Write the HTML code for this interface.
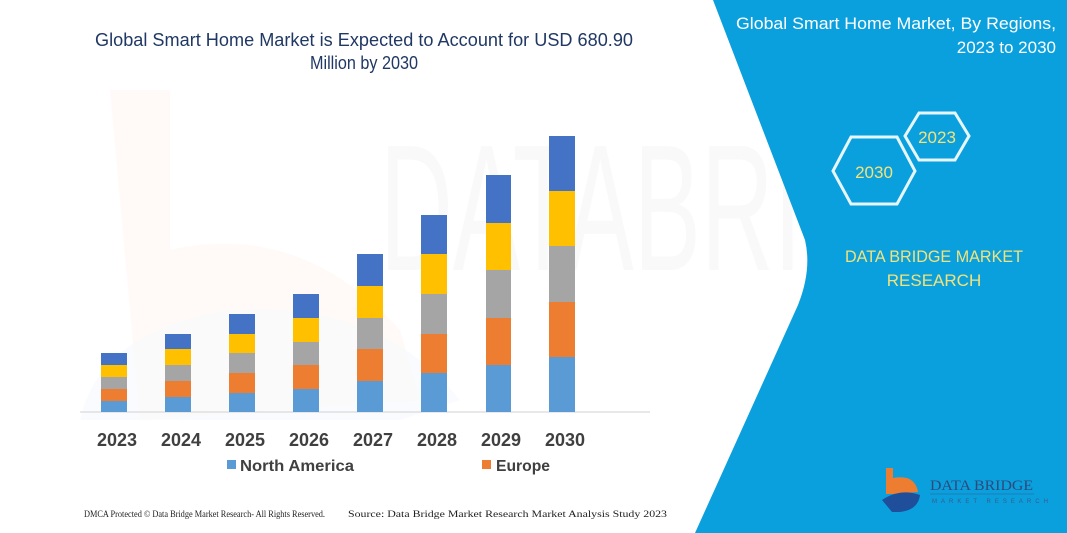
<!DOCTYPE html>
<html><head><meta charset="utf-8"><style>
html,body{margin:0;padding:0;background:#fff;}
svg{display:block;}
</style></head><body>
<svg width="1067" height="533" viewBox="0 0 1067 533" xmlns="http://www.w3.org/2000/svg">
<rect width="1067" height="533" fill="#fff"/>
<!-- faint watermark -->
<g opacity="0.04">
<path d="M110 90 L170 90 L170 250 Q300 220 400 330 L420 400 L140 420 Z" fill="#ED7D31"/>
<path d="M80 420 Q100 330 230 310 Q380 300 460 400 L400 420 Z" fill="#4472C4" opacity="0.6"/>
<text x="380" y="270" font-family="Liberation Sans, sans-serif" font-size="180" fill="#666" textLength="640" lengthAdjust="spacingAndGlyphs">DATABRIDGE</text>
</g>
<!-- blue panel -->
<path d="M713 0 L1067 0 L1067 533 L695 533 L798 305 Q812 270 805 240 Z" fill="#0AA0DE"/>
<!-- title -->
<g font-family="Liberation Sans, sans-serif" font-size="18" fill="#203864" text-anchor="middle">
<text x="364" y="46" textLength="538" lengthAdjust="spacingAndGlyphs">Global Smart Home Market is Expected to Account for USD 680.90</text>
<text x="364" y="69" textLength="108" lengthAdjust="spacingAndGlyphs">Million by 2030</text>
</g>
<!-- axis -->
<line x1="80" y1="412" x2="650" y2="412" stroke="#d9d9d9" stroke-width="1.2"/>
<!-- bars -->
<g>
<rect x="101" y="401" width="26" height="11" fill="#5B9BD5"/><rect x="101" y="389" width="26" height="12" fill="#ED7D31"/><rect x="101" y="377" width="26" height="12" fill="#A5A5A5"/><rect x="101" y="365" width="26" height="12" fill="#FFC000"/><rect x="101" y="353" width="26" height="12" fill="#4472C4"/>
<rect x="165" y="397" width="26" height="15" fill="#5B9BD5"/><rect x="165" y="381" width="26" height="16" fill="#ED7D31"/><rect x="165" y="365" width="26" height="16" fill="#A5A5A5"/><rect x="165" y="349" width="26" height="16" fill="#FFC000"/><rect x="165" y="334" width="26" height="15" fill="#4472C4"/>
<rect x="229" y="393" width="26" height="19" fill="#5B9BD5"/><rect x="229" y="373" width="26" height="20" fill="#ED7D31"/><rect x="229" y="353" width="26" height="20" fill="#A5A5A5"/><rect x="229" y="334" width="26" height="19" fill="#FFC000"/><rect x="229" y="314" width="26" height="20" fill="#4472C4"/>
<rect x="293" y="389" width="26" height="23" fill="#5B9BD5"/><rect x="293" y="365" width="26" height="24" fill="#ED7D31"/><rect x="293" y="342" width="26" height="23" fill="#A5A5A5"/><rect x="293" y="318" width="26" height="24" fill="#FFC000"/><rect x="293" y="294" width="26" height="24" fill="#4472C4"/>
<rect x="357" y="381" width="26" height="31" fill="#5B9BD5"/><rect x="357" y="349" width="26" height="32" fill="#ED7D31"/><rect x="357" y="318" width="26" height="31" fill="#A5A5A5"/><rect x="357" y="286" width="26" height="32" fill="#FFC000"/><rect x="357" y="254" width="26" height="32" fill="#4472C4"/>
<rect x="421" y="373" width="26" height="39" fill="#5B9BD5"/><rect x="421" y="334" width="26" height="39" fill="#ED7D31"/><rect x="421" y="294" width="26" height="40" fill="#A5A5A5"/><rect x="421" y="254" width="26" height="40" fill="#FFC000"/><rect x="421" y="215" width="26" height="39" fill="#4472C4"/>
<rect x="486" y="365" width="25" height="47" fill="#5B9BD5"/><rect x="486" y="318" width="25" height="47" fill="#ED7D31"/><rect x="486" y="270" width="25" height="48" fill="#A5A5A5"/><rect x="486" y="223" width="25" height="47" fill="#FFC000"/><rect x="486" y="175" width="25" height="48" fill="#4472C4"/>
<rect x="549" y="357" width="26" height="55" fill="#5B9BD5"/><rect x="549" y="302" width="26" height="55" fill="#ED7D31"/><rect x="549" y="246" width="26" height="56" fill="#A5A5A5"/><rect x="549" y="191" width="26" height="55" fill="#FFC000"/><rect x="549" y="136" width="26" height="55" fill="#4472C4"/>
</g>
<!-- year labels -->
<g font-family="Liberation Sans, sans-serif" font-size="18" font-weight="bold" fill="#404040" text-anchor="middle">
<text x="117" y="446">2023</text><text x="181" y="446">2024</text><text x="245" y="446">2025</text><text x="309" y="446">2026</text><text x="373" y="446">2027</text><text x="437" y="446">2028</text><text x="501" y="446">2029</text><text x="565" y="446">2030</text>
</g>
<!-- legend -->
<rect x="227" y="460" width="9" height="9" fill="#5B9BD5"/>
<rect x="482" y="460" width="9" height="9" fill="#ED7D31"/>
<g font-family="Liberation Sans, sans-serif" font-size="16" font-weight="bold" fill="#404040">
<text x="240" y="471" textLength="114" lengthAdjust="spacingAndGlyphs">North America</text>
<text x="496" y="471" textLength="54" lengthAdjust="spacingAndGlyphs">Europe</text>
</g>
<!-- footer -->
<g font-family="Liberation Serif, serif" font-size="9" fill="#222">
<text x="84" y="517" textLength="241" lengthAdjust="spacingAndGlyphs">DMCA Protected © Data Bridge Market Research-  All Rights Reserved.</text>
<text x="348" y="517" textLength="319" lengthAdjust="spacingAndGlyphs">Source:  Data Bridge Market Research  Market Analysis Study 2023</text>
</g>
<!-- right panel text -->
<g font-family="Liberation Sans, sans-serif" font-size="17" fill="#fff" text-anchor="end">
<text x="1056" y="29" textLength="320" lengthAdjust="spacingAndGlyphs">Global Smart Home Market, By Regions,</text>
<text x="1056" y="53">2023 to 2030</text>
</g>
<!-- hexagons -->
<g fill="none" stroke="#fff" stroke-width="3" stroke-opacity="0.9">
<polygon points="905,136 919,113 955,113 969,136 955,160 919,160"/>
<polygon points="833,171 851,137 897,137 915,171 897,204 851,204"/>
</g>
<g font-family="Liberation Sans, sans-serif" font-size="17" fill="#F3E27A" text-anchor="middle">
<text x="937" y="143">2023</text>
<text x="874" y="178">2030</text>
<text x="934" y="262" textLength="178" lengthAdjust="spacingAndGlyphs">DATA BRIDGE MARKET</text>
<text x="934" y="286">RESEARCH</text>
</g>
<!-- logo -->
<g>
<rect x="886" y="468" width="7" height="26" fill="#ED7D31"/>
<path d="M893 478 Q915 474 918 492 L893 494 Z" fill="#ED7D31"/>
<path d="M882 500 Q900 488 920 495 Q918 510 900 512 L892 512 Z" fill="#1F4E9A"/>
<text x="930" y="490" font-family="Liberation Serif, serif" font-size="15" fill="#2F4A7A" textLength="103" lengthAdjust="spacingAndGlyphs">DATA BRIDGE</text>
<line x1="930" y1="494" x2="1034" y2="494" stroke="#3a5a8a" stroke-width="0.6"/>
<text x="932" y="503" font-family="Liberation Sans, sans-serif" font-size="6" fill="#3a5a8a" letter-spacing="4">MARKET RESEARCH</text>
</g>
</svg>
</body></html>
